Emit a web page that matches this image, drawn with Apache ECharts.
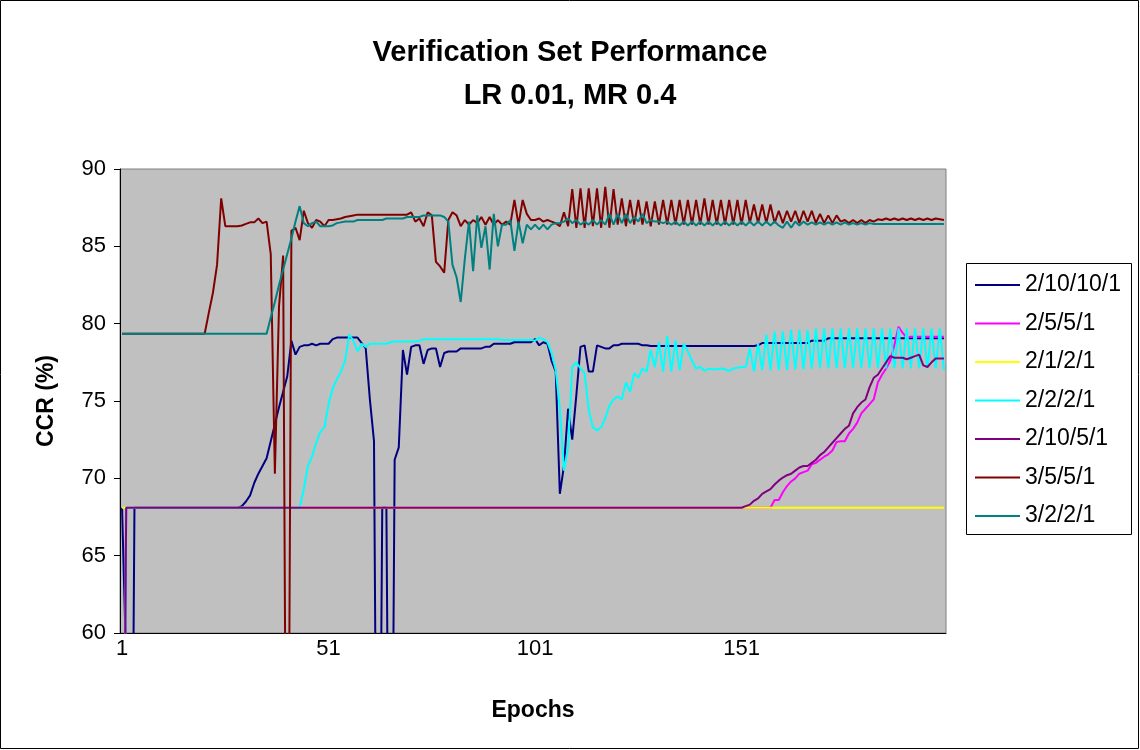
<!DOCTYPE html>
<html>
<head>
<meta charset="utf-8">
<title>Verification Set Performance</title>
<style>
  html, body { margin: 0; padding: 0; background: #fff; }
  #chart { width: 1140px; height: 750px; }
</style>
</head>
<body>
<div id="chart"></div>
<script src="https://cdn.jsdelivr.net/npm/echarts@6/dist/echarts.min.js"></script>
<script>
// epochs 1..200 (category labels)
var epochs = [];
for (var i = 1; i <= 200; i++) { epochs.push(String(i)); }

var seriesNames = ['2/10/10/1', '2/5/5/1', '2/1/2/1', '2/2/2/1', '2/10/5/1', '3/5/5/1', '3/2/2/1'];
var seriesColors = ['#000080', '#FF00FF', '#FFFF00', '#00FFFF', '#800080', '#800000', '#008080'];
var yTicks = [60, 65, 70, 75, 80, 85, 90];

// 2/10/10/1
var net_2_10_10_1 = [
  68.1, 58, 30, 68.1, 68.1, 68.1, 68.1, 68.1, 68.1, 68.1,
  68.1, 68.1, 68.1, 68.1, 68.1, 68.1, 68.1, 68.1, 68.1, 68.1,
  68.1, 68.1, 68.1, 68.1, 68.1, 68.1, 68.1, 68.1, 68.1, 68.2,
  68.5, 68.9, 69.7, 70.3, 70.8, 71.3, 72.4, 73.5, 74.6, 75.6,
  76.6, 78.9, 78.0, 78.5, 78.6, 78.6, 78.7, 78.6, 78.7, 78.7,
  78.7, 79.0, 79.1, 79.1, 79.1, 79.1, 79.1, 79.1, 78.75, 78.4,
  75.1, 72.4, 31.9, 68.1, 68.1, 31.9, 71.2, 72.0, 78.3, 76.7,
  78.5, 78.6, 78.6, 77.4, 78.3, 78.4, 78.4, 77.2, 78.1, 78.2,
  78.2, 78.2, 78.4, 78.4, 78.4, 78.4, 78.4, 78.4, 78.5, 78.5,
  78.7, 78.7, 78.7, 78.7, 78.7, 78.8, 78.8, 78.8, 78.8, 78.8,
  79.0, 78.6, 78.8, 78.7, 77.6, 76.9, 69.0, 70.8, 74.5, 72.5,
  75.4, 78.5, 78.6, 76.9, 76.9, 78.6, 78.5, 78.4, 78.4, 78.6,
  78.6, 78.7, 78.7, 78.7, 78.7, 78.7, 78.6, 78.6, 78.55, 78.55,
  78.55, 78.55, 78.55, 78.55, 78.55, 78.55, 78.55, 78.55, 78.55, 78.55,
  78.55, 78.55, 78.55, 78.55, 78.55, 78.55, 78.55, 78.55, 78.55, 78.55,
  78.55, 78.55, 78.55, 78.55, 78.6, 78.75, 78.75, 78.75, 78.75, 78.75,
  78.75, 78.75, 78.75, 78.75, 78.75, 78.75, 78.75, 78.9, 78.9, 78.9,
  78.9, 79.05, 79.05, 79.05, 79.05, 79.05, 79.05, 79.05, 79.05, 79.05,
  79.05, 79.05, 79.05, 79.05, 79.05, 79.05, 79.05, 79.05, 79.05, 79.05,
  79.05, 79.05, 79.05, 79.05, 79.05, 79.05, 79.05, 79.05, 79.05, 79.05
];

// 2/5/5/1
var net_2_5_5_1 = [
  31.9, 68.1, 68.1, 68.1, 68.1, 68.1, 68.1, 68.1, 68.1, 68.1,
  68.1, 68.1, 68.1, 68.1, 68.1, 68.1, 68.1, 68.1, 68.1, 68.1,
  68.1, 68.1, 68.1, 68.1, 68.1, 68.1, 68.1, 68.1, 68.1, 68.1,
  68.1, 68.1, 68.1, 68.1, 68.1, 68.1, 68.1, 68.1, 68.1, 68.1,
  68.1, 68.1, 68.1, 68.1, 68.1, 68.1, 68.1, 68.1, 68.1, 68.1,
  68.1, 68.1, 68.1, 68.1, 68.1, 68.1, 68.1, 68.1, 68.1, 68.1,
  68.1, 68.1, 68.1, 68.1, 68.1, 68.1, 68.1, 68.1, 68.1, 68.1,
  68.1, 68.1, 68.1, 68.1, 68.1, 68.1, 68.1, 68.1, 68.1, 68.1,
  68.1, 68.1, 68.1, 68.1, 68.1, 68.1, 68.1, 68.1, 68.1, 68.1,
  68.1, 68.1, 68.1, 68.1, 68.1, 68.1, 68.1, 68.1, 68.1, 68.1,
  68.1, 68.1, 68.1, 68.1, 68.1, 68.1, 68.1, 68.1, 68.1, 68.1,
  68.1, 68.1, 68.1, 68.1, 68.1, 68.1, 68.1, 68.1, 68.1, 68.1,
  68.1, 68.1, 68.1, 68.1, 68.1, 68.1, 68.1, 68.1, 68.1, 68.1,
  68.1, 68.1, 68.1, 68.1, 68.1, 68.1, 68.1, 68.1, 68.1, 68.1,
  68.1, 68.1, 68.1, 68.1, 68.1, 68.1, 68.1, 68.1, 68.1, 68.1,
  68.1, 68.1, 68.1, 68.1, 68.1, 68.1, 68.1, 68.1, 68.6, 68.6,
  69.1, 69.5, 69.8, 70.0, 70.3, 70.4, 70.5, 70.9, 71.0, 71.2,
  71.4, 71.55, 71.8, 72.35, 72.4, 72.4, 72.9, 73.2, 73.6, 74.2,
  74.5, 74.8, 75.1, 76.2, 76.7, 77.1, 77.6, 78.6, 79.8, 79.4,
  79.1, 79.15, 79.15, 79.15, 79.15, 79.15, 79.15, 79.15, 79.15, 79.15
];

// 2/1/2/1
var net_2_1_2_1 = [
  68.1, 68.1, 68.1, 68.1, 68.1, 68.1, 68.1, 68.1, 68.1, 68.1,
  68.1, 68.1, 68.1, 68.1, 68.1, 68.1, 68.1, 68.1, 68.1, 68.1,
  68.1, 68.1, 68.1, 68.1, 68.1, 68.1, 68.1, 68.1, 68.1, 68.1,
  68.1, 68.1, 68.1, 68.1, 68.1, 68.1, 68.1, 68.1, 68.1, 68.1,
  68.1, 68.1, 68.1, 68.1, 68.1, 68.1, 68.1, 68.1, 68.1, 68.1,
  68.1, 68.1, 68.1, 68.1, 68.1, 68.1, 68.1, 68.1, 68.1, 68.1,
  68.1, 68.1, 68.1, 68.1, 68.1, 68.1, 68.1, 68.1, 68.1, 68.1,
  68.1, 68.1, 68.1, 68.1, 68.1, 68.1, 68.1, 68.1, 68.1, 68.1,
  68.1, 68.1, 68.1, 68.1, 68.1, 68.1, 68.1, 68.1, 68.1, 68.1,
  68.1, 68.1, 68.1, 68.1, 68.1, 68.1, 68.1, 68.1, 68.1, 68.1,
  68.1, 68.1, 68.1, 68.1, 68.1, 68.1, 68.1, 68.1, 68.1, 68.1,
  68.1, 68.1, 68.1, 68.1, 68.1, 68.1, 68.1, 68.1, 68.1, 68.1,
  68.1, 68.1, 68.1, 68.1, 68.1, 68.1, 68.1, 68.1, 68.1, 68.1,
  68.1, 68.1, 68.1, 68.1, 68.1, 68.1, 68.1, 68.1, 68.1, 68.1,
  68.1, 68.1, 68.1, 68.1, 68.1, 68.1, 68.1, 68.1, 68.1, 68.1,
  68.1, 68.1, 68.1, 68.1, 68.1, 68.1, 68.1, 68.1, 68.1, 68.1,
  68.1, 68.1, 68.1, 68.1, 68.1, 68.1, 68.1, 68.1, 68.1, 68.1,
  68.1, 68.1, 68.1, 68.1, 68.1, 68.1, 68.1, 68.1, 68.1, 68.1,
  68.1, 68.1, 68.1, 68.1, 68.1, 68.1, 68.1, 68.1, 68.1, 68.1,
  68.1, 68.1, 68.1, 68.1, 68.1, 68.1, 68.1, 68.1, 68.1, 68.1
];

// 2/2/2/1
var net_2_2_2_1 = [
  31.9, 68.1, 68.1, 68.1, 68.1, 68.1, 68.1, 68.1, 68.1, 68.1,
  68.1, 68.1, 68.1, 68.1, 68.1, 68.1, 68.1, 68.1, 68.1, 68.1,
  68.1, 68.1, 68.1, 68.1, 68.1, 68.1, 68.1, 68.1, 68.1, 68.1,
  68.1, 68.1, 68.1, 68.1, 68.1, 68.1, 68.1, 68.1, 68.1, 68.1,
  68.1, 68.1, 68.1, 68.1, 69.3, 70.8, 71.4, 72.3, 73.0, 73.3,
  74.8, 75.8, 76.4, 76.9, 77.6, 79.3, 78.9, 78.2, 78.7, 78.5,
  78.7, 78.7, 78.7, 78.7, 78.7, 78.8, 78.85, 78.85, 78.85, 78.85,
  78.85, 78.85, 78.9, 79.0, 79.0, 79.0, 79.0, 79.0, 79.0, 79.0,
  79.0, 79.0, 79.0, 79.0, 79.0, 79.0, 79.0, 79.0, 79.0, 79.0,
  79.0, 79.0, 78.95, 78.95, 78.95, 78.95, 78.95, 78.95, 78.95, 78.95,
  78.9, 79.1, 79.0, 78.8, 78.1, 77.0, 74.5, 70.5, 72.0, 77.2,
  77.5, 77.1, 76.8, 74.4, 73.3, 73.1, 73.3, 73.9, 74.7, 75.1,
  75.3, 75.1, 76.2, 75.6, 76.8, 76.5, 77.1, 76.9, 78.3, 77.2,
  78.8, 76.9, 79.2, 76.9, 78.9, 77.0, 78.7, 78.2, 77.6, 77.1,
  77.2, 76.95, 77.1, 77.05, 77.05, 77.1, 77.05, 76.95, 77.1, 77.15,
  77.2, 77.2, 78.4, 76.9, 78.7, 77.0, 79.3, 77.0, 79.5, 77.0,
  79.5, 77.0, 79.6, 77.05, 79.6, 77.05, 79.6, 77.1, 79.7, 77.1,
  79.7, 77.1, 79.7, 77.1, 79.7, 77.1, 79.7, 77.1, 79.7, 77.1,
  79.7, 77.1, 79.7, 77.1, 79.7, 77.1, 79.7, 77.1, 79.7, 77.1,
  79.7, 77.1, 79.7, 77.1, 79.7, 77.1, 79.7, 77.1, 79.7, 77.0
];

// 2/10/5/1
var net_2_10_5_1 = [
  31.9, 68.1, 68.1, 68.1, 68.1, 68.1, 68.1, 68.1, 68.1, 68.1,
  68.1, 68.1, 68.1, 68.1, 68.1, 68.1, 68.1, 68.1, 68.1, 68.1,
  68.1, 68.1, 68.1, 68.1, 68.1, 68.1, 68.1, 68.1, 68.1, 68.1,
  68.1, 68.1, 68.1, 68.1, 68.1, 68.1, 68.1, 68.1, 68.1, 68.1,
  68.1, 68.1, 68.1, 68.1, 68.1, 68.1, 68.1, 68.1, 68.1, 68.1,
  68.1, 68.1, 68.1, 68.1, 68.1, 68.1, 68.1, 68.1, 68.1, 68.1,
  68.1, 68.1, 68.1, 68.1, 68.1, 68.1, 68.1, 68.1, 68.1, 68.1,
  68.1, 68.1, 68.1, 68.1, 68.1, 68.1, 68.1, 68.1, 68.1, 68.1,
  68.1, 68.1, 68.1, 68.1, 68.1, 68.1, 68.1, 68.1, 68.1, 68.1,
  68.1, 68.1, 68.1, 68.1, 68.1, 68.1, 68.1, 68.1, 68.1, 68.1,
  68.1, 68.1, 68.1, 68.1, 68.1, 68.1, 68.1, 68.1, 68.1, 68.1,
  68.1, 68.1, 68.1, 68.1, 68.1, 68.1, 68.1, 68.1, 68.1, 68.1,
  68.1, 68.1, 68.1, 68.1, 68.1, 68.1, 68.1, 68.1, 68.1, 68.1,
  68.1, 68.1, 68.1, 68.1, 68.1, 68.1, 68.1, 68.1, 68.1, 68.1,
  68.1, 68.1, 68.1, 68.1, 68.1, 68.1, 68.1, 68.1, 68.1, 68.1,
  68.1, 68.2, 68.3, 68.55, 68.7, 69.0, 69.15, 69.3, 69.6, 69.85,
  70.05, 70.2, 70.3, 70.5, 70.7, 70.8, 70.8, 71.0, 71.2, 71.5,
  71.7, 72.0, 72.3, 72.6, 72.9, 73.2, 73.4, 74.2, 74.6, 74.9,
  75.1, 75.9, 76.5, 76.7, 77.1, 77.5, 77.9, 77.8, 77.8, 77.8,
  77.7, 77.8, 77.9, 78.0, 77.3, 77.2, 77.5, 77.75, 77.75, 77.75
];

// 3/5/5/1
var net_3_5_5_1 = [
  79.35, 79.35, 79.35, 79.35, 79.35, 79.35, 79.35, 79.35, 79.35, 79.35,
  79.35, 79.35, 79.35, 79.35, 79.35, 79.35, 79.35, 79.35, 79.35, 79.35,
  79.35, 80.7, 82.0, 83.8, 88.1, 86.3, 86.3, 86.3, 86.3, 86.35,
  86.45, 86.55, 86.55, 86.8, 86.5, 86.6, 84.5, 70.3, 81.1, 84.4,
  31.9, 86.0, 86.2, 85.4, 87.3, 86.5, 86.2, 86.7, 86.6, 86.3,
  86.7, 86.7, 86.75, 86.8, 86.9, 86.95, 87.0, 87.05, 87.05, 87.05,
  87.05, 87.05, 87.05, 87.05, 87.05, 87.05, 87.05, 87.05, 87.05, 87.05,
  87.2, 86.6, 86.8, 86.3, 87.2, 87.0, 84.0, 83.7, 83.3, 86.7,
  87.2, 87.0, 86.3, 86.7, 86.4, 86.7, 86.5, 86.9, 86.4, 86.9,
  86.4, 86.7, 86.4, 86.6, 86.4, 88.0, 86.4, 88.0, 87.1, 86.7,
  86.7, 86.8, 86.6, 86.7, 86.6, 86.5, 86.3, 87.2, 86.3, 88.7,
  86.2, 88.75, 86.2, 88.75, 86.3, 88.75, 86.2, 88.85, 86.2, 88.7,
  86.4, 88.1, 86.3, 88.0, 86.4, 88.0, 86.4, 87.9, 86.3, 87.9,
  86.4, 88.0, 86.4, 88.0, 86.4, 88.0, 86.4, 88.0, 86.4, 88.0,
  86.4, 88.1, 86.4, 88.0, 86.4, 88.0, 86.4, 88.0, 86.4, 88.0,
  86.4, 88.0, 86.5, 87.7, 86.5, 87.7, 86.5, 87.7, 86.5, 87.3,
  86.5, 87.3, 86.6, 87.3, 86.5, 87.3, 86.6, 87.3, 86.5, 87.1,
  86.5, 87.0, 86.5, 87.0, 86.6, 86.7, 86.5, 86.7, 86.5, 86.7,
  86.5, 86.7, 86.6, 86.75, 86.7, 86.8, 86.7, 86.8, 86.7, 86.8,
  86.7, 86.8, 86.7, 86.8, 86.7, 86.8, 86.7, 86.8, 86.75, 86.7
];

// 3/2/2/1
var net_3_2_2_1 = [
  79.35, 79.35, 79.35, 79.35, 79.35, 79.35, 79.35, 79.35, 79.35, 79.35,
  79.35, 79.35, 79.35, 79.35, 79.35, 79.35, 79.35, 79.35, 79.35, 79.35,
  79.35, 79.35, 79.35, 79.35, 79.35, 79.35, 79.35, 79.35, 79.35, 79.35,
  79.35, 79.35, 79.35, 79.35, 79.35, 79.35, 80.4, 81.4, 82.5, 83.5,
  84.5, 85.5, 86.6, 87.6, 86.5, 86.3, 86.5, 86.6, 86.3, 86.3,
  86.3, 86.35, 86.5, 86.55, 86.6, 86.6, 86.6, 86.7, 86.7, 86.7,
  86.7, 86.7, 86.7, 86.7, 86.8, 86.8, 86.8, 86.8, 86.8, 86.9,
  86.9, 86.9, 86.9, 87.0, 87.0, 87.0, 87.0, 87.0, 86.9, 86.6,
  83.8, 83.0, 81.4, 84.2, 86.6, 83.4, 87.0, 84.9, 86.3, 83.5,
  87.1, 85.0, 86.4, 86.4, 86.7, 84.7, 86.6, 85.2, 86.4, 86.1,
  86.4, 86.1, 86.4, 86.1, 86.4, 86.5, 86.5, 86.6, 86.8, 86.5,
  86.7, 86.4, 86.6, 86.4, 86.7, 86.4, 86.7, 86.4, 87.1, 86.4,
  87.1, 86.5, 87.1, 86.5, 86.9, 86.6, 87.1, 86.5, 86.7, 86.6,
  86.6, 86.5, 86.6, 86.4, 86.6, 86.35, 86.6, 86.35, 86.6, 86.35,
  86.6, 86.35, 86.6, 86.35, 86.6, 86.35, 86.6, 86.35, 86.6, 86.35,
  86.6, 86.35, 86.6, 86.35, 86.6, 86.35, 86.6, 86.35, 86.6, 86.35,
  86.2, 86.6, 86.2, 86.6, 86.35, 86.6, 86.4, 86.55, 86.4, 86.55,
  86.4, 86.55, 86.4, 86.55, 86.4, 86.55, 86.4, 86.5, 86.4, 86.5,
  86.4, 86.5, 86.45, 86.45, 86.45, 86.45, 86.45, 86.45, 86.45, 86.45,
  86.45, 86.45, 86.45, 86.45, 86.45, 86.45, 86.45, 86.45, 86.45, 86.45
];

var seriesData = [net_2_10_10_1, net_2_5_5_1, net_2_1_2_1, net_2_2_2_1, net_2_10_5_1, net_3_5_5_1, net_3_2_2_1];

var FONT = '"Liberation Sans", Arial, sans-serif';

var chart = echarts.init(document.getElementById('chart'), null, { renderer: 'canvas' });

var series = [];
for (var s = 0; s < seriesNames.length; s++) {
  series.push({
    name: seriesNames[s],
    type: 'line',
    data: seriesData[s],
    showSymbol: false,
    symbol: 'none',
    clip: true,
    lineStyle: { width: 2, color: seriesColors[s] },
    itemStyle: { color: seriesColors[s] },
    emphasis: { disabled: true }
  });
}

var option = {
  animation: false,
  backgroundColor: '#ffffff',
  color: seriesColors,
  title: {
    text: 'Verification Set Performance\nLR 0.01, MR 0.4',
    left: 'center',
    top: 26,
    textStyle: { fontFamily: FONT, fontSize: 29, fontWeight: 'bold', color: '#000', lineHeight: 43 }
  },
  legend: {
    orient: 'vertical',
    left: 975,
    top: 272,
    padding: 0,
    itemWidth: 45,
    itemHeight: 2,
    itemGap: 12.5,
    icon: 'rect',
    data: seriesNames,
    selectedMode: false,
    textStyle: { fontFamily: FONT, fontSize: 23, color: '#000', lineHeight: 26 }
  },
  grid: {
    left: 120, top: 169, width: 826, height: 464,
    show: true,
    backgroundColor: '#C0C0C0',
    borderColor: '#808080',
    borderWidth: 1
  },
  xAxis: {
    type: 'category',
    data: epochs,
    boundaryGap: true,
    name: 'Epochs',
    nameLocation: 'middle',
    nameGap: 66,
    nameTextStyle: { fontFamily: FONT, fontSize: 23, fontWeight: 'bold', color: '#000' },
    axisLine: { lineStyle: { color: '#000', width: 1 } },
    axisTick: {
      inside: false, length: 6,
      interval: function (idx) { return idx % 10 === 0; },
      lineStyle: { color: '#000' }
    },
    axisLabel: {
      interval: function (idx) { return idx % 50 === 0; },
      fontFamily: FONT, fontSize: 22, color: '#000', margin: 5
    },
    splitLine: { show: false }
  },
  yAxis: {
    type: 'value',
    min: yTicks[0],
    max: yTicks[yTicks.length - 1],
    interval: 5,
    name: 'CCR (%)',
    nameLocation: 'middle',
    nameGap: 62,
    nameRotate: 90,
    nameTextStyle: { fontFamily: FONT, fontSize: 23, fontWeight: 'bold', color: '#000' },
    axisLine: { show: true, lineStyle: { color: '#000', width: 1 } },
    axisTick: { show: true, inside: false, length: 6, lineStyle: { color: '#000' } },
    axisLabel: { fontFamily: FONT, fontSize: 22, color: '#000', margin: 14 },
    splitLine: { show: false }
  },
  graphic: [
    {
      type: 'rect',
      shape: { x: 0.5, y: 0.5, width: 1138, height: 748 },
      style: { fill: 'none', stroke: '#000', lineWidth: 1 },
      z: -1, silent: true
    },
    {
      type: 'rect',
      shape: { x: 966.5, y: 263.5, width: 165, height: 271 },
      style: { fill: '#fff', stroke: '#000', lineWidth: 1 },
      z: -1, silent: true
    }
  ],
  series: series
};

chart.setOption(option);
</script>
</body>
</html>
